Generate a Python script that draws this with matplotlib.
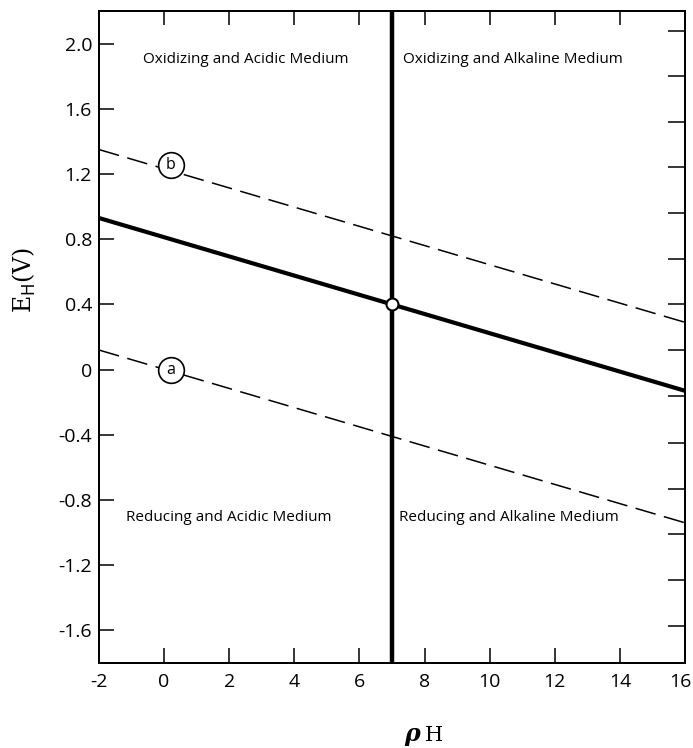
import matplotlib
matplotlib.use("Agg")
import matplotlib.pyplot as plt
import matplotlib.transforms as mtransforms

# ---- data ----
ph_ends = [-2, 16]
e_water = [0.93, -0.13]      # solid line
e_upper_b = [1.35, 0.29]     # dashed line (b)
e_lower_a = [0.12, -0.94]    # dashed line (a)
neutral_ph = 7
neutral_point = (7, 0.40)
label_b = (0.2, 1.255, "b")
label_a = (0.2, 0.0, "a")

x_ticks = [-2, 0, 2, 4, 6, 8, 10, 12, 14, 16]
x_ticklabels = ["-2", "0", "2", "4", "6", "8", "10", "12", "14", "16"]
y_ticks = [2.0, 1.6, 1.2, 0.8, 0.4, 0, -0.4, -0.8, -1.2, -1.6]
y_ticklabels = ["2.0", "1.6", "1.2", "0.8", "0.4", "0", "-0.4", "-0.8", "-1.2", "-1.6"]
right_ticks = [2.08, 1.80, 1.52, 1.24, 0.96, 0.68, 0.40, 0.12, -0.16, -0.45,
               -0.73, -1.01, -1.29, -1.57]

regions = [
    (2.5, 1.90, "Oxidizing and Acidic Medium"),
    (10.7, 1.90, "Oxidizing and Alkaline Medium"),
    (2.0, -0.91, "Reducing and Acidic Medium"),
    (10.6, -0.91, "Reducing and Alkaline Medium"),
]

sans = ["Open Sans", "DejaVu Sans"]

fig = plt.figure(figsize=(6.93, 7.48), dpi=100)
ax = fig.add_axes([99 / 693, 1 - 663 / 748, 586 / 693, 652 / 748])
ax.set_xlim(-2, 16)
ax.set_ylim(-1.8, 2.2)

# lines
ax.plot(ph_ends, e_water, color="black", lw=3.0, solid_capstyle="butt", zorder=3)
dash_lw = 1.1
for e in (e_upper_b, e_lower_a):
    ax.plot(ph_ends, e, color="black", lw=dash_lw,
            dashes=(15.0 / dash_lw, 6.2 / dash_lw), zorder=3)
ax.axvline(neutral_ph, color="black", lw=3.2, zorder=4)
ax.plot([neutral_point[0]], [neutral_point[1]], marker="o", ms=8.6,
        mfc="white", mec="black", mew=1.5, zorder=6)

# circled labels
for x, y, t in (label_b, label_a):
    ax.plot([x], [y], marker="o", ms=18.5, mfc="white", mec="black",
            mew=1.2, zorder=5)
    ax.text(x, y, t, ha="center", va="center", fontsize=11.5,
            family=sans, zorder=7)

# region texts
for x, y, t in regions:
    ax.text(x, y, t, ha="center", va="center", fontsize=11, family=sans)

# ticks
ax.set_xticks(x_ticks)
ax.set_xticklabels(x_ticklabels, family=sans, fontsize=14)
ax.set_yticks(y_ticks)
ax.set_yticklabels(y_ticklabels, family=sans, fontsize=14)
ax.tick_params(axis="x", direction="in", length=11, width=1.1, pad=7,
               top=True)
ax.tick_params(axis="y", direction="in", length=11, width=1.1, pad=5,
               right=False)
for tk in ax.xaxis.get_major_ticks():
    tk.tick2line.set_markersize(10)
# keep the last x label inside the picture
last = ax.get_xticklabels()[-1]
last.set_transform(last.get_transform() +
                   mtransforms.ScaledTranslation(-5 / 100, 0, fig.dpi_scale_trans))

# right-side unlabelled ticks
axr = ax.twinx()
axr.set_ylim(ax.get_ylim())
axr.set_yticks(right_ticks)
axr.set_yticklabels([])
axr.tick_params(axis="y", direction="in", length=12, width=1.1)

for a in (ax, axr):
    for s in a.spines.values():
        s.set_linewidth(1.4)

# axis labels
ax.set_ylabel(r"E$_{\mathrm{H}}$(V)", family="DejaVu Serif", fontsize=17)
ax.yaxis.set_label_coords(-(99 - 38) / 586, (663 - 280) / 652)
fig.text(412 / 693, 1 - 741 / 748, "ρ", fontsize=17, family="DejaVu Serif",
         fontweight="bold", fontstyle="italic", ha="center", va="baseline")
fig.text(434 / 693, 1 - 741 / 748, "H", fontsize=15, family="DejaVu Serif",
         ha="center", va="baseline")

fig.savefig("out.png", dpi=100)
